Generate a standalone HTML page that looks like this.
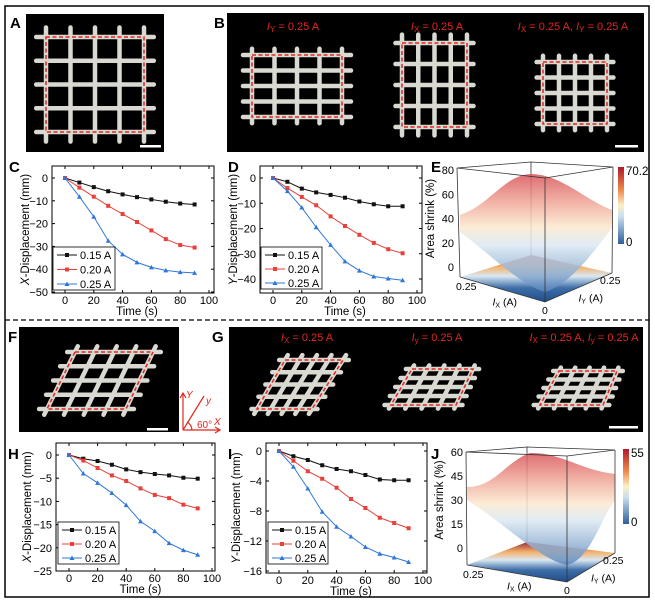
<!DOCTYPE html>
<html><head><meta charset="utf-8"><style>
html,body{margin:0;padding:0;background:#fff}
svg{display:block;font-family:"Liberation Sans",sans-serif}
</style></head><body>
<svg id="fig" width="655" height="603" viewBox="0 0 655 603" xmlns="http://www.w3.org/2000/svg">
<defs>
<linearGradient id="surf" x1="0" y1="0" x2="0" y2="1"><stop offset="0" stop-color="#d9545a"/><stop offset="0.25" stop-color="#f0a99a"/><stop offset="0.45" stop-color="#fbe8cf"/><stop offset="0.6" stop-color="#dce9f3"/><stop offset="1" stop-color="#5a86bb"/></linearGradient>
<linearGradient id="floorg" x1="0" y1="0" x2="0" y2="1"><stop offset="0" stop-color="#9b2b3a"/><stop offset="0.25" stop-color="#f4b26a"/><stop offset="0.45" stop-color="#d9e7f2"/><stop offset="0.7" stop-color="#3d6ea8"/><stop offset="1" stop-color="#1f4c88"/></linearGradient>
<linearGradient id="cbar" x1="0" y1="0" x2="0" y2="1"><stop offset="0" stop-color="#b2182b"/><stop offset="0.3" stop-color="#f08a4b"/><stop offset="0.5" stop-color="#fbf1c7"/><stop offset="0.65" stop-color="#c7ddee"/><stop offset="1" stop-color="#2e5f9a"/></linearGradient>
</defs>
<rect x="5" y="6" width="644" height="591" fill="none" stroke="#000" stroke-width="1.5"/>
<line x1="5" y1="320" x2="649" y2="320" stroke="#000" stroke-width="1.2" stroke-dasharray="5 3"/>
<g id="photos"></g>
<g id="charts"></g>
<g id="surfaces"></g>
<g font-weight="bold" font-size="15">
<text x="10" y="28">A</text>
<text x="214" y="28">B</text>
<text x="9" y="172">C</text>
<text x="228" y="172">D</text>
<text x="431" y="172">E</text>
<text x="8" y="342">F</text>
<text x="212" y="342">G</text>
<text x="8" y="459">H</text>
<text x="228" y="459">I</text>
<text x="431" y="459">J</text>
</g>
</svg>
<script>
const NS='http://www.w3.org/2000/svg';
function mk(tag,attrs,parent,txt){const e=document.createElementNS(NS,tag);for(const k in attrs)e.setAttribute(k,attrs[k]);if(txt!==undefined)e.textContent=txt;parent.appendChild(e);return e;}

// ---------- chart data ----------
const times=[0,10,20,30,40,50,60,70,80,90];
const seriesLabels=['0.15 A','0.20 A','0.25 A'];
const cX015=[0,-2,-4,-5.8,-7.2,-8.4,-9.4,-10.4,-11.2,-11.6];
const cX020=[0,-4.2,-8.2,-12.2,-15.8,-19.3,-23,-26.8,-29.4,-30.5];
const cX025=[0,-8.2,-17,-27.5,-33.5,-37,-39.2,-40.5,-41.3,-41.6];
const dY015=[0,-1.5,-4.2,-5.7,-6.7,-7.8,-9.3,-10.4,-11.2,-11.2];
const dY020=[0,-4,-7.5,-10.8,-15.2,-19,-22.5,-25.7,-28.2,-29.8];
const dY025=[0,-5.2,-11.7,-19.5,-26.5,-33,-36.7,-39,-39.8,-40.5];
const hX015=[0,-0.8,-1.3,-2.1,-3.1,-3.7,-4.1,-4.4,-4.9,-5.1];
const hX020=[0,-1.2,-2.8,-4.4,-5.6,-7.2,-8.6,-9.3,-10.7,-11.5];
const hX025=[0,-4,-6,-8.2,-10.8,-14.3,-16.4,-19,-20.5,-21.5];
const iY015=[0,-0.7,-1.2,-1.9,-2.4,-2.7,-3.2,-3.8,-3.9,-3.9];
const iY020=[0,-1.3,-2.7,-3.7,-4.9,-6.4,-7.6,-8.9,-9.6,-10.3];
const iY025=[0,-2.1,-5,-8.1,-10.1,-11.4,-12.8,-13.7,-14.2,-14.8];
const xTicks=[0,20,40,60,80,100];
const cYTicks=[0,-10,-20,-30,-40,-50];
const dYTicks=[0,-10,-20,-30,-40];
const hYTicks=[0,-5,-10,-15,-20,-25];
const iYTicks=[0,-4,-8,-12,-16];
const colors=['#111','#e8403a','#2f78d8'];

function chart(id,o){
  const g=mk('g',{},document.getElementById('charts'));
  
  
  const X=v=>o.x0+(v/100)*(o.x100-o.x0);
  const Y=v=>o.y0+(v/o.yref)*(o.yrefPx-o.y0);
  mk('rect',{x:o.bx0,y:o.by0,width:o.bx1-o.bx0,height:o.by1-o.by0,fill:'none',stroke:'#000','stroke-width':1},g);
  o.xt.forEach(t=>{const x=X(t);
    mk('line',{x1:x,y1:o.by1,x2:x,y2:o.by1-3,stroke:'#000'},g);
    mk('line',{x1:x,y1:o.by0,x2:x,y2:o.by0+3,stroke:'#000'},g);
    const tl=mk('text',{x:x,y:o.by1+11,'font-size':11,'text-anchor':'middle'},g,String(t));
    
  });
  o.yt.forEach(t=>{const y=Y(t);
    mk('line',{x1:o.bx0,y1:y,x2:o.bx0+3,y2:y,stroke:'#000'},g);
    mk('line',{x1:o.bx1,y1:y,x2:o.bx1-3,y2:y,stroke:'#000'},g);
    const tl=mk('text',{x:o.bx0-4,y:y+4,'font-size':11,'text-anchor':'end'},g,t<0?'\u2212'+(-t):String(t));
    
  });
  const xt=mk('text',{x:(X(0)+X(100))/2,y:o.by1+22,'font-size':11.5,'text-anchor':'middle'},g,'Time (s)');
  
  const yc=(o.by0+o.by1)/2;
  const yt=mk('text',{x:o.ytx,y:yc,'font-size':11.5,'text-anchor':'middle',transform:`rotate(-90 ${o.ytx} ${yc})`},g);
  
  mk('tspan',{'font-style':'italic'},yt,o.axis);mk('tspan',{},yt,'-Displacement (mm)');
  o.series.forEach((s,si)=>{
    const c=colors[si];
    const pts=times.map((t,i)=>X(t)+','+Y(s[i])).join(' ');
    const pl=mk('polyline',{points:pts,fill:'none',stroke:c,'stroke-width':1},g);
    
    times.forEach((t,i)=>{const x=X(t),y=Y(s[i]);
      let m;
      if(si==2) m=mk('polygon',{points:`${x},${y-2.5} ${x+2.5},${y+2} ${x-2.5},${y+2}`,fill:c},g);
      else m=mk('rect',{x:x-2,y:y-2,width:4,height:4,fill:c},g);
      
    });
  });
  const L=o.leg;
  const lb=mk('rect',{x:L[0],y:L[1],width:L[2],height:L[3],fill:'#fff',stroke:'#000','stroke-width':0.8},g);
  
  seriesLabels.forEach((lab,si)=>{const y=L[1]+8+si*(L[3]-14)/2;const c=colors[si];
    mk('line',{x1:L[0]+4,y1:y,x2:L[0]+24,y2:y,stroke:c},g);
    if(si==2)mk('polygon',{points:`${L[0]+14},${y-2.5} ${L[0]+16.5},${y+2} ${L[0]+11.5},${y+2}`,fill:c},g);
    else mk('rect',{x:L[0]+12,y:y-2,width:4,height:4,fill:c},g);
    const t=mk('text',{x:L[0]+27,y:y+4,'font-size':11},g,lab);
    
  });
}
chart('chart-c',{x0:65,x100:209,y0:178,yref:-50,yrefPx:292,bx0:52,bx1:214,by0:166,by1:293,xt:xTicks,yt:cYTicks,axis:'X',ytx:29,series:[cX015,cX020,cX025],leg:[53,247,62,43]});
chart('chart-d',{x0:273,x100:417,y0:178,yref:-40,yrefPx:279,bx0:260,bx1:422,by0:166,by1:293,xt:xTicks,yt:dYTicks,axis:'Y',ytx:237,series:[dY015,dY020,dY025],leg:[261,247,61,42]});
chart('chart-h',{x0:69,x100:212,y0:455,yref:-25,yrefPx:571,bx0:56,bx1:215,by0:443,by1:571,xt:xTicks,yt:hYTicks,axis:'X',ytx:31,series:[hX015,hX020,hX025],leg:[58,522,61,42]});
chart('chart-i',{x0:279,x100:423,y0:451,yref:-16,yrefPx:571,bx0:266,bx1:427,by0:443,by1:573,xt:xTicks,yt:iYTicks,axis:'Y',ytx:240,series:[iY015,iY020,iY025],leg:[268,522,60,42]});

// ---------- photos ----------
const P=document.getElementById('photos');
function blk(x,y,w,h,name){const r=mk('rect',{x:x,y:y,width:w,height:h,fill:'#000'},P);}
function grid(q,name){
  const g=mk('g',{},P);
  const lerp=(a,b,t)=>[a[0]+(b[0]-a[0])*t,a[1]+(b[1]-a[1])*t];
  for(let i=0;i<5;i++){const t=i/4;
    let a=lerp(q[0],q[1],t),b=lerp(q[3],q[2],t);
    let e1=lerp(a,b,-0.1),e2=lerp(a,b,1.1);
    mk('line',{x1:e1[0],y1:e1[1],x2:e2[0],y2:e2[1],stroke:'#d9d9d2','stroke-width':4.5,'stroke-linecap':'round'},g);
    a=lerp(q[0],q[3],t);b=lerp(q[1],q[2],t);
    e1=lerp(a,b,-0.1);e2=lerp(a,b,1.1);
    mk('line',{x1:e1[0],y1:e1[1],x2:e2[0],y2:e2[1],stroke:'#d9d9d2','stroke-width':4.5,'stroke-linecap':'round'},g);
  }
  mk('polygon',{points:q.map(p=>p.join(',')).join(' '),fill:'none',stroke:'#e3261f','stroke-width':1.5,'stroke-dasharray':'4 2.5'},g);
}
function lab(x,y,sub1,rest,name){const t=mk('text',{x:x,y:y,'font-size':11,fill:'#e3261f','text-anchor':'middle'},P);
  sub1.forEach((s,i)=>{mk('tspan',{'font-style':'italic'},t,'I');mk('tspan',{'font-size':8,dy:2},t,s[0]);mk('tspan',{dy:-2},t,s[1]);});}
function bar(x,y,w){const r=mk('rect',{x:x,y:y,width:w,height:2.5,fill:'#fff'},P);}
blk(26,14,138,138,'photo-a');grid([[46,37],[144,37],[144,132],[46,132]],'mesh-a');bar(140,145,21);
blk(227,13,417,139,'photo-b');
grid([[252,55],[342,55],[342,117],[252,117]],'mesh-b1');
grid([[402,43],[467,43],[467,127],[402,127]],'mesh-b2');
grid([[543,62],[607,62],[607,124],[543,124]],'mesh-b3');
lab(293,30,[['Y',' = 0.25 A']],'','label-b1');lab(437,30,[['X',' = 0.25 A']],'','label-b2');lab(573,30,[['X',' = 0.25 A, '],['Y',' = 0.25 A']],'','label-b3');bar(615,145,23);
blk(19,327,160,105,'photo-f');grid([[75,352],[153,352],[126,409],[47,409]],'mesh-f');bar(147,428,21);
blk(229,327,414,105,'photo-g');
grid([[285,360],[343,360],[312,409],[257,409]],'mesh-g1');
grid([[412,369],[473,369],[456,405],[391,405]],'mesh-g2');
grid([[559,371],[617,371],[603,405],[540,405]],'mesh-g3');
lab(307,341,[['X',' = 0.25 A']],'','label-g1');lab(437,341,[['y',' = 0.25 A']],'','label-g2');lab(584,341,[['X',' = 0.25 A, '],['y',' = 0.25 A']],'','label-g3');bar(609,426,29);
const ag=mk('g',{stroke:'#e3261f','stroke-width':1.2,fill:'none'},P);
mk('path',{d:'M183,430 L183,394 M180,398 L183,393 L186,398 M183,430 L219,430 M215,427 L220,430 L215,433 M183,430 L204,396'},ag);
mk('path',{d:'M192,430 A10,10 0 0 0 187,422'},ag);
[['Y',186,398],['y',206,404],['60°',197,428],['X',214,425]].forEach(a=>{mk('text',{x:a[1],y:a[2],'font-size':10,fill:'#e3261f',stroke:'none','font-style':a[0]=='60°'?'normal':'italic'},ag,a[0]);});

// ---------- surfaces ----------
const S=document.getElementById('surfaces');
function surf(name,c,ticks,ytop,ybot,cbMax,surfPath){
  const g=mk('g',{},S);
  const [tl,tb,tr,tf,bl,bf,br,bb]=c;
  mk('line',{x1:bb[0],y1:bb[1],x2:tb[0],y2:tb[1],stroke:'#333','stroke-width':0.8},g);
  mk('polyline',{points:[tl,tb,tr].map(p=>p.join(',')).join(' '),fill:'none',stroke:'#333','stroke-width':0.8},g);
  mk('polygon',{points:[bl,bb,br,bf].map(p=>p.join(',')).join(' '),fill:'url(#floorg)'},g);
  const s=mk('path',{d:surfPath,fill:'url(#surf)','fill-opacity':0.85},g);
  mk('polyline',{points:[tl,tf,tr].map(p=>p.join(',')).join(' '),fill:'none',stroke:'#333','stroke-width':0.8},g);
  [[tl,bl],[tf,bf],[tr,br]].forEach(e=>mk('line',{x1:e[0][0],y1:e[0][1],x2:e[1][0],y2:e[1][1],stroke:'#333','stroke-width':0.8},g));
  mk('polyline',{points:[bl,bf,br].map(p=>p.join(',')).join(' '),fill:'none',stroke:'#333','stroke-width':0.8},g);
  ticks.forEach((t,i)=>{const y=ytop+(ybot-ytop)*i/(ticks.length-1);mk('text',{x:tl[0]-3,y:y+4,'font-size':11,'text-anchor':'end'},g,String(t));});
  const yc=(ytop+ybot)/2,yx=tl[0]-23;
  const zt=mk('text',{x:yx,y:yc,'font-size':11.5,'text-anchor':'middle',transform:`rotate(-90 ${yx} ${yc})`},g,'Area shrink (%)');
  mk('text',{x:bl[0]-4,y:bl[1]+13,'font-size':10.5},g,'0.25');
  mk('text',{x:br[0]-12,y:br[1]+11,'font-size':10.5},g,'0.25');
  mk('text',{x:bf[0]-3,y:bf[1]+12,'font-size':10.5},g,'0');
  const ix=mk('text',{x:(bl[0]+bf[0])/2-10,y:(bl[1]+bf[1])/2+16,'font-size':10.5},g);
  mk('tspan',{'font-style':'italic'},ix,'I');mk('tspan',{'font-size':7,dy:2},ix,'X');mk('tspan',{dy:-2},ix,' (A)');
  const iy=mk('text',{x:(br[0]+bf[0])/2,y:(br[1]+bf[1])/2+14,'font-size':10.5},g);
  mk('tspan',{'font-style':'italic'},iy,'I');mk('tspan',{'font-size':7,dy:2},iy,'Y');mk('tspan',{dy:-2},iy,' (A)');
  const cb=cbMax; const cbr=mk('rect',{x:cb[0],y:cb[1],width:6,height:cb[2]-cb[1],fill:'url(#cbar)'},g);
  mk('text',{x:cb[0]+8,y:cb[1]+8,'font-size':11.5},g,cb[3]);
  mk('text',{x:cb[0]+8,y:cb[2]+2,'font-size':11.5},g,'0');
}
surf('surface-e',[[457,168],[531,162],[613,167],[545,178],[460,277],[545,302],[612,273],[531,255]],[80,60,40,20,0],170,267,[618,167,244,'70.2'],
 'M460,215 C490,205 505,174 532,174 C562,175 585,200 612,210 L612,228 C595,250 570,285 545,292 C520,285 485,250 460,232 Z');
surf('surface-j',[[466,452],[527,447],[615,450],[567,456],[467,565],[567,582],[615,553],[527,542]],[60,45,30,15,0],452,548,[623,449,524,'55'],
 'M467,487 C495,487 505,462 530,453 C560,452 580,470 615,474 L615,500 C600,520 590,560 567,565 C540,560 500,520 467,500 Z');
</script>
</body></html>
